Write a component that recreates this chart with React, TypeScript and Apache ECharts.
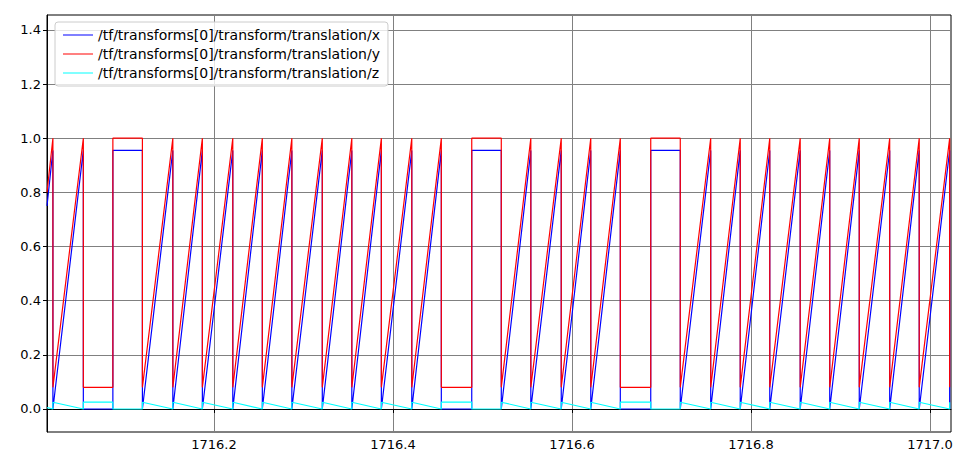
import * as echarts from "echarts";
import { useEffect, useRef } from "react";

// event times (s) where a new segment starts
const eventTimes = [
  1716.020, 1716.054, 1716.087, 1716.120, 1716.154, 1716.187, 1716.221, 1716.254,
  1716.287, 1716.321, 1716.354, 1716.387, 1716.421, 1716.454, 1716.488, 1716.521,
  1716.554, 1716.588, 1716.621, 1716.654, 1716.688, 1716.721, 1716.755, 1716.788,
  1716.821, 1716.855, 1716.888, 1716.921, 1716.955, 1716.988, 1717.022,
];
// r = ramp, l = hold low, h = hold high
const segmentKinds = [
  "r", "l", "h", "r", "r", "r", "r", "r", "r", "r", "r", "r", "r", "l", "h",
  "r", "r", "r", "r", "l", "h", "r", "r", "r", "r", "r", "r", "r", "r", "r",
];
const startTime = 1716.0134;
const startValues = { x: 0.75, y: 0.8, z: 0.005 };
// [segment start, segment end] value per kind
const xLevels: Record<string, [number, number]> = { r: [0.0, 0.955], l: [0.0, 0.0], h: [0.955, 0.955] };
const yLevels: Record<string, [number, number]> = { r: [0.08, 1.0], l: [0.08, 0.08], h: [1.0, 1.0] };
const zLevels: Record<string, [number, number]> = { r: [0.025, 0.0], l: [0.025, 0.025], h: [0.0, 0.0] };

const yTicks = [0, 0.2, 0.4, 0.6, 0.8, 1.0, 1.2, 1.4];
const xTicks = [1716.2, 1716.4, 1716.6, 1716.8, 1717.0];

const X_MIN = 1716.0134;
const X_MAX = 1717.0235;
const Y_MIN = -0.085;
const Y_MAX = 1.455;

function buildSeries(levels: Record<string, [number, number]>, first: number, endKey: string): number[][] {
  const pts: number[][] = [[startTime, first], [eventTimes[0], levels.r[1]]];
  segmentKinds.forEach((kind, i) => {
    const [s, e] = levels[kind];
    pts.push([eventTimes[i], s], [eventTimes[i + 1], e]);
  });
  pts.push([eventTimes[eventTimes.length - 1], levels[endKey][0]]);
  return pts;
}

export default function App() {
  const ref = useRef<HTMLDivElement>(null);

  useEffect(() => {
    if (!ref.current) return;
    const chart = echarts.init(ref.current, undefined, { renderer: "svg" });
    const font = "DejaVu Sans";
    const mk = (name: string, color: string, data: number[][], z: number) => ({
      name,
      type: "line" as const,
      data,
      z,
      showSymbol: false,
      symbol: "none",
      lineStyle: { color, width: 1.2 },
      itemStyle: { color },
    });
    chart.setOption({
      animation: false,
      textStyle: { fontFamily: font },
      grid: { left: 47, right: 15, top: 15, bottom: 39, show: true, borderColor: "#000", borderWidth: 1 },
      legend: {
        orient: "vertical",
        left: 55,
        top: 22,
        padding: [6, 8],
        itemGap: 5,
        itemWidth: 30,
        itemHeight: 1,
        icon: "rect",
        backgroundColor: "rgba(255,255,255,0.8)",
        borderColor: "#ccc",
        borderWidth: 1,
        borderRadius: 3,
        textStyle: { fontSize: 14, color: "#000", fontFamily: font },
        data: [
          "/tf/transforms[0]/transform/translation/x",
          "/tf/transforms[0]/transform/translation/y",
          "/tf/transforms[0]/transform/translation/z",
        ],
      },
      xAxis: {
        type: "value",
        min: X_MIN,
        max: X_MAX,
        splitLine: { show: false },
        axisLine: { lineStyle: { color: "#000" } },
        axisTick: { customValues: xTicks, length: 4, lineStyle: { color: "#000" } },
        axisLabel: {
          customValues: xTicks,
          color: "#000",
          fontSize: 13,
          margin: 6,
          formatter: (v: number) => v.toFixed(1),
        },
      },
      yAxis: {
        type: "value",
        min: Y_MIN,
        max: Y_MAX,
        splitLine: { show: false },
        axisLine: { show: true, lineStyle: { color: "#000" } },
        axisTick: { show: true, customValues: yTicks, length: 4, lineStyle: { color: "#000" } },
        axisLabel: {
          customValues: yTicks,
          color: "#000",
          fontSize: 13,
          margin: 6,
          formatter: (v: number) => v.toFixed(1),
        },
      },
      series: [
        {
          type: "line",
          data: [],
          silent: true,
          z: 0,
          markLine: {
            silent: true,
            z: 0,
            symbol: "none",
            label: { show: false },
            lineStyle: { color: "#808080", width: 1, type: "solid" },
            data: [...yTicks.map((v) => ({ yAxis: v })), ...xTicks.map((v) => ({ xAxis: v }))],
          },
        },
        mk("/tf/transforms[0]/transform/translation/x", "#0000ff", buildSeries(xLevels, startValues.x, "r"), 3),
        mk("/tf/transforms[0]/transform/translation/y", "#ff0000", buildSeries(yLevels, startValues.y, "r"), 4),
        mk("/tf/transforms[0]/transform/translation/z", "#00ffff", buildSeries(zLevels, startValues.z, "r"), 5),
      ],
    });
    return () => chart.dispose();
  }, []);

  return <div ref={ref} style={{ position: "absolute", left: 0, top: 0, width: 966, height: 471 }} />;
}
